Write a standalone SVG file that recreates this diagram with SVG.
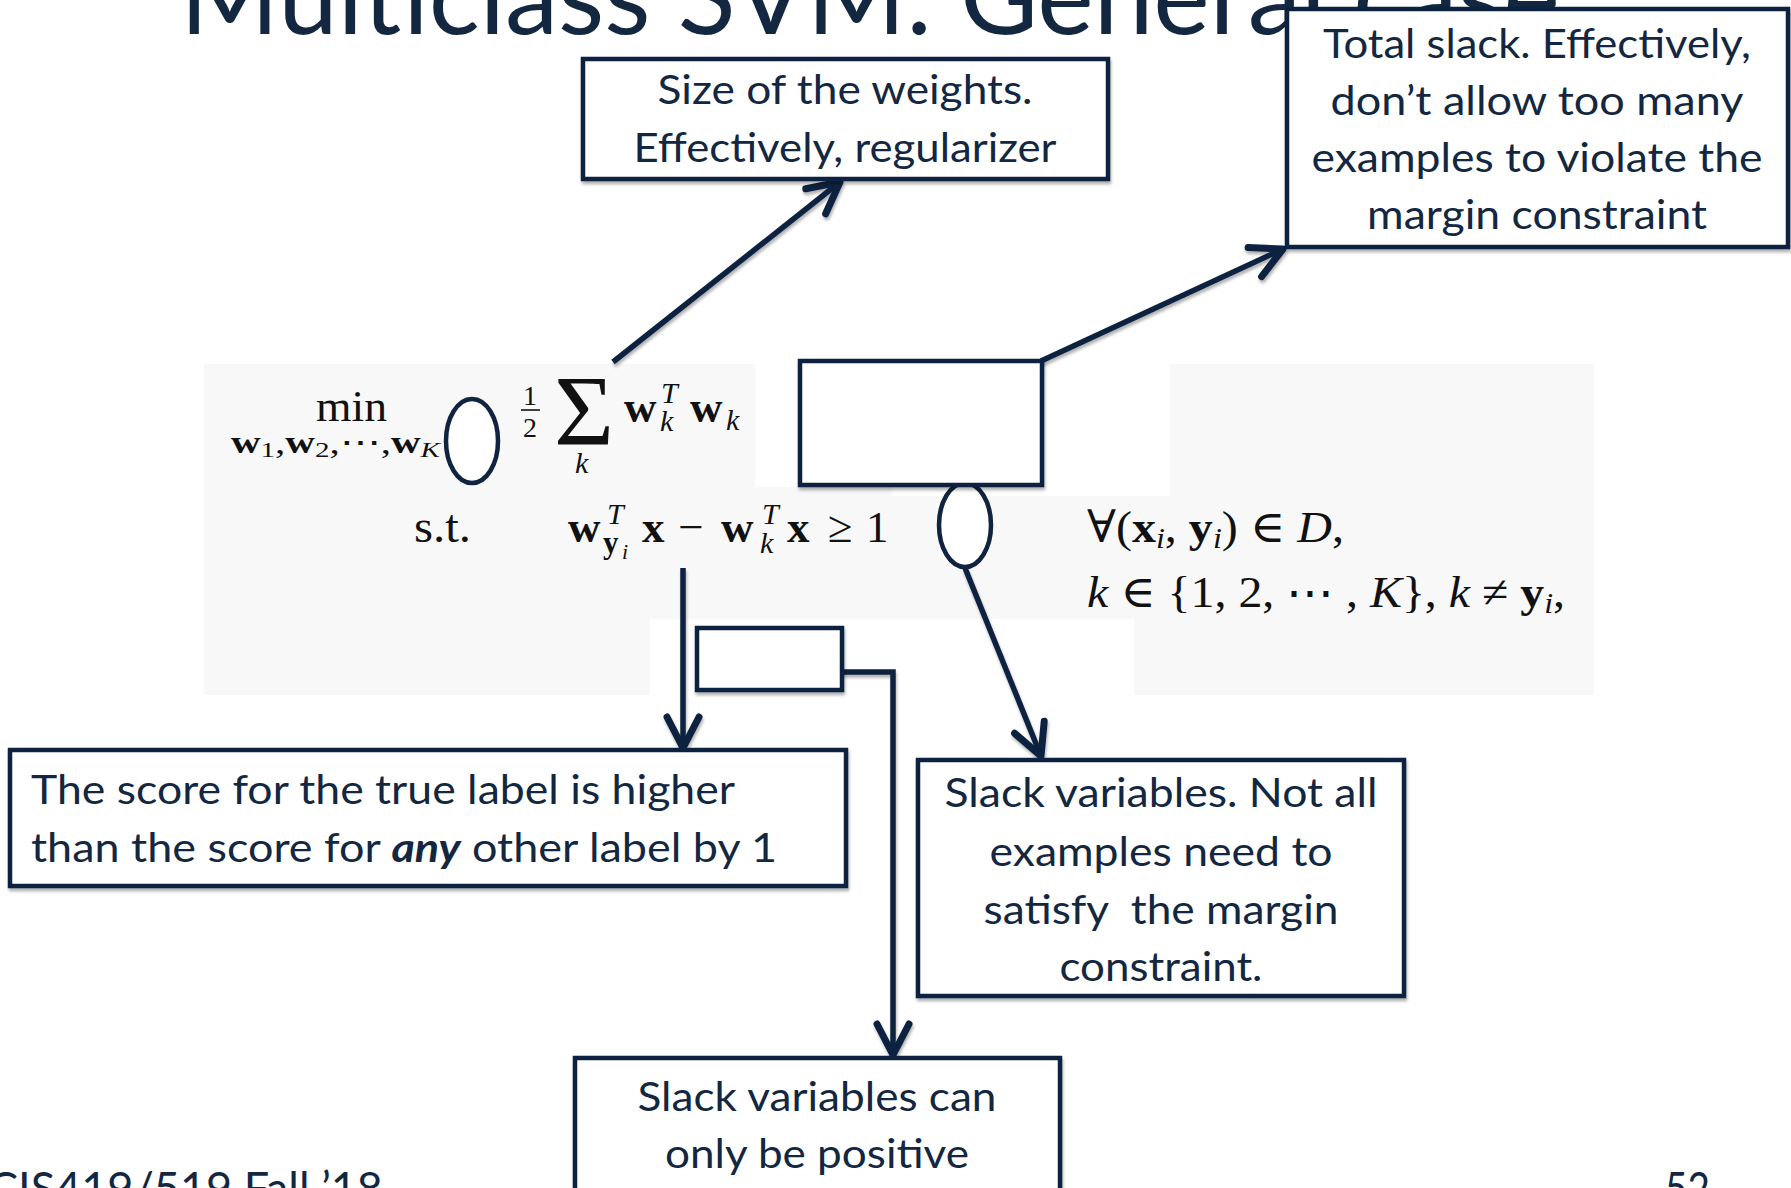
<svg xmlns="http://www.w3.org/2000/svg" width="1791" height="1188" viewBox="0 0 1791 1188">
<style>
.t{font-family:Lato,"Open Sans","Liberation Sans",sans-serif;fill:#132741;}
.bx{font-size:41px;}
.box{fill:#fff;stroke:#10233f;stroke-width:4.5;}
.m{font-family:"Liberation Serif","DejaVu Serif",serif;fill:#111;}
.b{font-weight:bold;}
.i{font-style:italic;}
.bg{fill:#f8f8f8;}
.ul{stroke:#f79646;stroke-width:5.5;}
.c{fill:none;stroke:#10233f;stroke-width:5.5;}
.el{fill:#fff;stroke:#10233f;stroke-width:4.5;}
</style>
<defs>
<filter id="sh" x="-10%" y="-10%" width="120%" height="130%">
<feDropShadow dx="1" dy="3" stdDeviation="1.5" flood-color="#000" flood-opacity="0.3"/>
</filter>
<marker id="ah" markerUnits="userSpaceOnUse" markerWidth="44" markerHeight="44" viewBox="-38 -22 44 44" refX="0" refY="0" orient="auto">
<path d="M-31,-16 L0,0 L-31,16" fill="none" stroke="#10233f" stroke-width="7" stroke-linecap="round" stroke-linejoin="round"/>
</marker>
</defs>
<rect width="1791" height="1188" fill="#fff"/>

<g id="title">
<text class="t" x="180" y="34" font-size="106" textLength="1380" lengthAdjust="spacingAndGlyphs">Multiclass SVM: General case</text>
</g>

<g id="formula">
<rect class="bg" x="204" y="364" width="551" height="123"/>
<rect class="bg" x="1170" y="364" width="424" height="132"/>
<rect class="bg" x="204" y="487" width="688" height="132"/>
<rect class="bg" x="892" y="496" width="702" height="123"/>
<rect class="bg" x="204" y="619" width="446" height="76"/>
<rect class="bg" x="1134" y="619" width="460" height="76"/>
<text class="m" x="316" y="421" font-size="45" textLength="71" lengthAdjust="spacingAndGlyphs">min</text>
<text class="m" x="231" y="453" font-size="31" textLength="209" lengthAdjust="spacingAndGlyphs"><tspan class="b">w</tspan><tspan font-size="22" dy="4">1</tspan><tspan dy="-4">,</tspan><tspan class="b">w</tspan><tspan font-size="22" dy="4">2</tspan><tspan dy="-4">,⋯,</tspan><tspan class="b">w</tspan><tspan class="i" font-size="22" dy="4">K</tspan></text>
<text class="m" x="530" y="405" font-size="28" text-anchor="middle">1</text>
<line x1="521" y1="410" x2="540" y2="410" stroke="#111" stroke-width="1.6"/>
<text class="m" x="530" y="437" font-size="28" text-anchor="middle">2</text>
<text class="m" x="554" y="444" font-size="100" textLength="60" lengthAdjust="spacingAndGlyphs">Σ</text>
<text class="m i" x="575" y="473" font-size="30">k</text>
<text class="m b" x="624" y="422" font-size="45">w</text>
<text class="m i" x="661" y="403" font-size="30">T</text>
<text class="m i" x="660" y="431" font-size="30">k</text>
<text class="m b" x="690" y="422" font-size="45">w</text>
<text class="m i" x="726" y="430" font-size="30">k</text>

<text class="m" x="414" y="542" font-size="46" textLength="57" lengthAdjust="spacingAndGlyphs">s.t.</text>
<text class="m b" x="568" y="542" font-size="45">w</text>
<text class="m i" x="607" y="524" font-size="30">T</text>
<text class="m b" x="603" y="553" font-size="31">y</text>
<text class="m i" x="622" y="559" font-size="22">i</text>
<text class="m b" x="642" y="542" font-size="45">x</text>
<text class="m" x="691" y="542" font-size="45" text-anchor="middle">−</text>
<text class="m b" x="721" y="542" font-size="45">w</text>
<text class="m i" x="762" y="524" font-size="30">T</text>
<text class="m i" x="760" y="553" font-size="30">k</text>
<text class="m b" x="787" y="542" font-size="45">x</text>
<text class="m" x="840" y="542" font-size="45" text-anchor="middle">≥</text>
<text class="m" x="866" y="542" font-size="45">1</text>

<text class="m" x="1087" y="542" font-size="45" textLength="257" lengthAdjust="spacingAndGlyphs">∀(<tspan class="b">x</tspan><tspan class="i" font-size="30" dy="6">i</tspan><tspan dy="-6">, </tspan><tspan class="b">y</tspan><tspan class="i" font-size="30" dy="6">i</tspan><tspan dy="-6">) ∈ </tspan><tspan class="i">D</tspan>,</text>
<text class="m" x="1087" y="607" font-size="45" textLength="478" lengthAdjust="spacingAndGlyphs"><tspan class="i">k</tspan> ∈ {1, 2, ⋯ , <tspan class="i">K</tspan>}, <tspan class="i">k</tspan> ≠ <tspan class="b">y</tspan><tspan class="i" font-size="30" dy="6">i</tspan><tspan dy="-6">,</tspan></text>

<line class="ul" x1="524" y1="364" x2="734" y2="364" filter="url(#sh)"/>
<line class="ul" x1="551" y1="562" x2="883" y2="562" filter="url(#sh)"/>
</g>

<g id="connectors" filter="url(#sh)">
<line class="c" x1="613" y1="362" x2="840" y2="182" marker-end="url(#ah)"/>
<line class="c" x1="1041" y1="361" x2="1283" y2="249" marker-end="url(#ah)"/>
<line class="c" x1="683" y1="568" x2="683" y2="748" marker-end="url(#ah)"/>
<polyline class="c" points="842,672 893,672 893,1055" marker-end="url(#ah)"/>
<line class="c" x1="965" y1="568" x2="1041" y2="756" marker-end="url(#ah)"/>
</g>

<g id="ellipse-left"><ellipse class="el" cx="472" cy="441" rx="26" ry="42"/></g>
<g id="ellipse-right"><ellipse class="el" cx="965" cy="525" rx="26" ry="42"/></g>

<g id="node-slack-sum" filter="url(#sh)"><rect class="box" x="800" y="361" width="242" height="124"/></g>
<g id="node-slack-var" filter="url(#sh)"><rect class="box" x="697" y="628" width="145" height="62"/></g>

<g id="node-weights">
<rect class="box" x="583" y="59" width="525" height="120" filter="url(#sh)"/>
<text class="t bx" x="845" y="104" text-anchor="middle" textLength="375" lengthAdjust="spacingAndGlyphs">Size of the weights.</text>
<text class="t bx" x="845" y="162" text-anchor="middle" textLength="423" lengthAdjust="spacingAndGlyphs">Effectively, regularizer</text>
</g>

<g id="node-total-slack">
<rect class="box" x="1287" y="9" width="501" height="238" filter="url(#sh)"/>
<text class="t bx" x="1537" y="58" text-anchor="middle" textLength="428" lengthAdjust="spacingAndGlyphs">Total slack. Effectively,</text>
<text class="t bx" x="1537" y="115" text-anchor="middle" textLength="413" lengthAdjust="spacingAndGlyphs">don’t allow too many</text>
<text class="t bx" x="1537" y="172" text-anchor="middle" textLength="451" lengthAdjust="spacingAndGlyphs">examples to violate the</text>
<text class="t bx" x="1537" y="229" text-anchor="middle" textLength="340" lengthAdjust="spacingAndGlyphs">margin constraint</text>
</g>

<g id="node-score">
<rect class="box" x="10" y="750" width="836" height="136" filter="url(#sh)"/>
<text class="t bx" x="31" y="804" textLength="704" lengthAdjust="spacingAndGlyphs">The score for the true label is higher</text>
<text class="t bx" x="31" y="862" textLength="746" lengthAdjust="spacingAndGlyphs">than the score for <tspan font-weight="bold" font-style="italic">any</tspan> other label by 1</text>
</g>

<g id="node-slack-explain">
<rect class="box" x="918" y="760" width="486" height="236" filter="url(#sh)"/>
<text class="t bx" x="1161" y="807" text-anchor="middle" textLength="433" lengthAdjust="spacingAndGlyphs">Slack variables. Not all</text>
<text class="t bx" x="1161" y="866" text-anchor="middle" textLength="343" lengthAdjust="spacingAndGlyphs">examples need to</text>
<text class="t bx" x="1161" y="924" text-anchor="middle" textLength="355" lengthAdjust="spacingAndGlyphs" style="white-space:pre">satisfy  the margin</text>
<text class="t bx" x="1161" y="981" text-anchor="middle" textLength="203" lengthAdjust="spacingAndGlyphs">constraint.</text>
</g>

<g id="node-positive">
<rect class="box" x="575" y="1058" width="485" height="150" filter="url(#sh)"/>
<text class="t bx" x="817" y="1111" text-anchor="middle" textLength="359" lengthAdjust="spacingAndGlyphs">Slack variables can</text>
<text class="t bx" x="817" y="1168" text-anchor="middle" textLength="304" lengthAdjust="spacingAndGlyphs">only be positive</text>
</g>

<g id="footer">
<text class="t" x="-12" y="1205" font-size="46" textLength="395" lengthAdjust="spacingAndGlyphs">CIS419/519 Fall ’18</text>
<text class="t" x="1665" y="1205" font-size="46" textLength="45" lengthAdjust="spacingAndGlyphs">52</text>
</g>
</svg>
